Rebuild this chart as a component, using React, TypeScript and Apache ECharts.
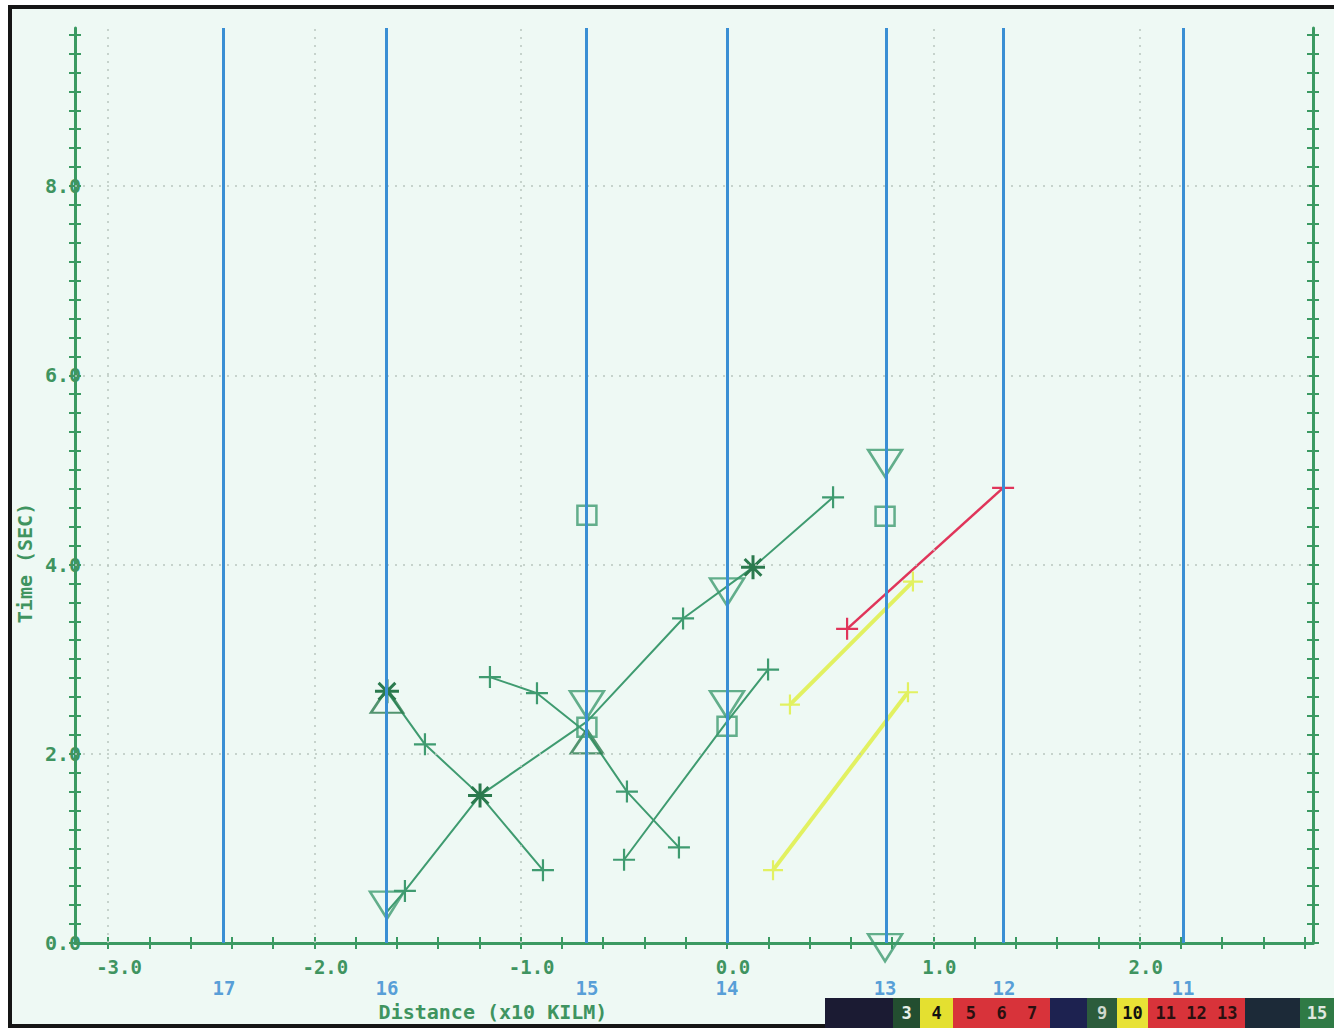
import React, { useEffect, useRef } from 'react';
import * as echarts from 'echarts';

// ---------- data ----------
const xLabelValues = [-3, -2, -1, 0, 1, 2];
const yLabelValues = [0, 2, 4, 6, 8];
const xGridValues = [-3, -2, -1, 0, 1, 2];
const yGridValues = [2, 4, 6, 8];

const stationNames = ['17', '16', '15', '14', '13', '12', '11'];
const stationX = [-2.438, -1.648, -0.679, 0, 0.766, 1.342, 2.21];

// [x, y, marker]
const lineA: [number, number, string][] = [
  [-1.648, 0.33, 'none'], [-1.561, 0.55, 'plus'], [-1.197, 1.56, 'star'],
  [-0.679, 2.34, 'none'], [-0.213, 3.43, 'plus'], [0.126, 3.97, 'star'], [0.514, 4.71, 'plus'],
];
const lineB: [number, number, string][] = [
  [-1.648, 2.66, 'star'], [-1.464, 2.1, 'plus'], [-1.197, 1.56, 'none'], [-0.892, 0.77, 'plus'],
];
const lineC: [number, number, string][] = [
  [-1.149, 2.81, 'plus'], [-0.921, 2.64, 'plus'], [-0.679, 2.22, 'none'], [-0.485, 1.6, 'plus'], [-0.233, 1.01, 'plus'],
];
const lineD: [number, number, string][] = [
  [-0.499, 0.88, 'plus'], [0, 2.34, 'none'], [0.199, 2.89, 'plus'],
];
const redLine: [number, number, string][] = [
  [0.582, 3.32, 'plus'], [1.338, 4.81, 'plus'],
];
const yellowLine1: [number, number, string][] = [
  [0.305, 2.52, 'plus'], [0.901, 3.82, 'plus'],
];
const yellowLine2: [number, number, string][] = [
  [0.223, 0.77, 'plus'], [0.877, 2.65, 'plus'],
];

const triDown: [number, number][] = [
  [-1.648, 0.4], [-0.679, 2.52], [0, 2.52], [0, 3.71], [0.766, 5.07], [0.766, -0.05],
];
const triUp: [number, number][] = [[-1.648, 2.56], [-0.679, 2.13]];
const squares: [number, number][] = [[-0.679, 4.52], [0.766, 4.51], [-0.679, 2.28], [0, 2.29]];

const legendSegments = [
  { x0: 825, x1: 893, color: '#1b1b33', label: '', labelColor: '#fff' },
  { x0: 893, x1: 920, color: '#234e30', label: '3', labelColor: '#e8f0e8' },
  { x0: 920, x1: 953, color: '#e4e030', label: '4', labelColor: '#111' },
  { x0: 953, x1: 1050, color: '#d8333a', label: '5  6  7', labelColor: '#2a1010' },
  { x0: 1050, x1: 1087, color: '#1d2250', label: '', labelColor: '#fff' },
  { x0: 1087, x1: 1117, color: '#2c5c3c', label: '9', labelColor: '#cfd8cf' },
  { x0: 1117, x1: 1148, color: '#e8e236', label: '10', labelColor: '#111' },
  { x0: 1148, x1: 1245, color: '#d8333a', label: '11 12 13', labelColor: '#2a1010' },
  { x0: 1245, x1: 1300, color: '#1c2a38', label: '', labelColor: '#fff' },
  { x0: 1300, x1: 1334, color: '#2f7a45', label: '15', labelColor: '#e0e8e0' },
];

// ---------- style ----------
const X_MIN = -3.16;
const X_MAX = 2.84;
const Y_MIN = 0;
const Y_MAX = 9.67;
const BG = '#eef9f4';
const AXIS_GREEN = '#3b9a62';
const TEXT_GREEN = '#3f9460';
const BLUE = '#3a8fd4';
const LABEL_BLUE = '#2f86d0';
const SERIES_GREEN = '#3f9b70';
const DARK_GREEN = '#2b7a4e';
const RED = '#e0355a';
const YELLOW = '#e2f160';
const GRID = '#b9c6bf';
const FONT = '"DejaVu Sans Mono", "Liberation Mono", monospace';

const PLUS = 'path://M10,0V20M0,10H20';
const STAR = 'path://M10,0V20M0,10H20M3,3L17,17M3,17L17,3';

function ticks(from: number, to: number, step: number) {
  const out: number[] = [];
  for (let v = from; v <= to + 1e-9; v += step) out.push(Math.round(v * 100) / 100);
  return out;
}
const xTicks = ticks(-3.0, 2.8, 0.2);
const yTicks = ticks(0, 9.6, 0.2);

function lineSeries(name: string, pts: [number, number, string][], color: string, width: number, markColor: string, size: number) {
  return {
    name,
    type: 'line',
    z: 3,
    lineStyle: { color, width },
    showSymbol: true,
    data: pts.map((p) => ({
      value: [p[0], p[1]],
      symbol: p[2] === 'none' ? 'none' : p[2] === 'star' ? STAR : PLUS,
      symbolSize: p[2] === 'star' ? size + 2 : size,
      itemStyle: {
        color: 'rgba(0,0,0,0)',
        borderColor: p[2] === 'star' ? DARK_GREEN : markColor,
        borderWidth: p[2] === 'star' ? 3 : 2.2,
      },
    })),
  };
}

export default function App() {
  const ref = useRef<HTMLDivElement>(null);
  useEffect(() => {
    if (!ref.current) return;
    const chart = echarts.init(ref.current, undefined, { renderer: 'svg' });

    const tickStyle = { color: AXIS_GREEN, width: 2 };
    const axisLineStyle = { color: AXIS_GREEN, width: 3 };

    const labelRich = {
      n: { fontFamily: FONT, fontSize: 19, fontWeight: 'bold', color: TEXT_GREEN, padding: [0, 0, 0, 22] },
      p: { fontFamily: FONT, fontSize: 19, fontWeight: 'bold', color: TEXT_GREEN, padding: [0, 0, 0, 12] },
    };

    const graphics: any[] = [
      {
        type: 'rect', z: -100, silent: true,
        shape: { x: 10, y: 7, width: 1340, height: 1019 },
        style: { fill: BG, stroke: '#151515', lineWidth: 4 },
      },
      {
        type: 'text', x: 493, y: 1012, z: 10,
        style: {
          text: 'Distance (x10 KILM)', fill: TEXT_GREEN, font: 'bold 20px ' + FONT,
          align: 'center', verticalAlign: 'middle', textAlign: 'center', textVerticalAlign: 'middle',
        },
      },
      {
        type: 'text', x: 25, y: 563, rotation: Math.PI / 2, z: 10,
        style: {
          text: 'Time (SEC)', fill: TEXT_GREEN, font: 'bold 20px ' + FONT,
          align: 'center', verticalAlign: 'middle', textAlign: 'center', textVerticalAlign: 'middle',
        },
      },
    ];
    legendSegments.forEach((s) => {
      graphics.push({
        type: 'rect', z: 50, silent: true,
        shape: { x: s.x0, y: 998, width: s.x1 - s.x0, height: 30 },
        style: { fill: s.color },
      });
      if (s.label) {
        graphics.push({
          type: 'text', z: 51, x: (s.x0 + s.x1) / 2, y: 1013,
          style: {
            text: s.label, fill: s.labelColor, font: 'bold 17px ' + FONT,
            align: 'center', verticalAlign: 'middle', textAlign: 'center', textVerticalAlign: 'middle',
          },
        });
      }
    });

    const hiddenLine = { show: false, onZero: false };

    const option: any = {
      animation: false,
      backgroundColor: '#ffffff',
      grid: { left: 75, right: 21, top: 28, bottom: 87, containLabel: false, outerBoundsMode: 'none' },
      xAxis: [
        {
          type: 'value', min: X_MIN, max: X_MAX, position: 'bottom',
          axisLine: { show: true, onZero: false, lineStyle: axisLineStyle },
          axisTick: { show: true, customValues: xTicks, length: 6, lineStyle: tickStyle },
          axisLabel: {
            show: true, customValues: xLabelValues, margin: 14, align: 'center',
            formatter: (v: number) => (v < 0 ? '{n|' + v.toFixed(1) + '}' : '{p|' + v.toFixed(1) + '}'),
            rich: labelRich,
          },
          splitLine: { show: false },
        },
        {
          type: 'value', min: X_MIN, max: X_MAX, position: 'bottom',
          axisLine: hiddenLine,
          axisTick: { show: true, inside: true, customValues: xTicks, length: 6, lineStyle: tickStyle },
          axisLabel: { show: false },
          splitLine: { show: false },
        },
      ],
      yAxis: [
        {
          type: 'value', min: Y_MIN, max: Y_MAX, position: 'left',
          axisLine: { show: true, onZero: false, lineStyle: axisLineStyle },
          axisTick: { show: true, customValues: yTicks, length: 6, lineStyle: tickStyle },
          axisLabel: {
            show: true, customValues: yLabelValues, margin: -6,
            formatter: (v: number) => v.toFixed(1),
            fontFamily: FONT, fontSize: 20, fontWeight: 'bold', color: TEXT_GREEN,
          },
          splitLine: { show: false },
        },
        {
          type: 'value', min: Y_MIN, max: Y_MAX, position: 'left',
          axisLine: hiddenLine,
          axisTick: { show: true, inside: true, customValues: yTicks, length: 6, lineStyle: tickStyle },
          axisLabel: { show: false },
          splitLine: { show: false },
        },
        {
          type: 'value', min: Y_MIN, max: Y_MAX, position: 'right',
          axisLine: { show: true, onZero: false, lineStyle: axisLineStyle },
          axisTick: { show: true, customValues: yTicks, length: 6, lineStyle: tickStyle },
          axisLabel: { show: false },
          splitLine: { show: false },
        },
        {
          type: 'value', min: Y_MIN, max: Y_MAX, position: 'right',
          axisLine: hiddenLine,
          axisTick: { show: true, inside: true, customValues: yTicks, length: 6, lineStyle: tickStyle },
          axisLabel: { show: false },
          splitLine: { show: false },
        },
      ],
      graphic: { elements: graphics },
      series: [
        {
          name: 'grid', type: 'scatter', z: 1, data: [], silent: true,
          markLine: {
            silent: true, symbol: ['none', 'none'], label: { show: false },
            lineStyle: { color: GRID, width: 1.5, type: [2, 6] },
            data: [
              ...xGridValues.map((v) => ({ xAxis: v })),
              ...yGridValues.map((v) => ({ yAxis: v })),
            ],
          },
        },
        {
          name: 'stations', type: 'scatter', z: 2, silent: true, clip: false,
          symbolSize: 1,
          itemStyle: { color: 'rgba(0,0,0,0)' },
          label: {
            show: true, position: 'inside', offset: [0, 45], formatter: '{b}',
            color: LABEL_BLUE, fontFamily: FONT, fontSize: 19, fontWeight: 'bold',
            textBorderWidth: 0, textBorderColor: 'transparent',
          },
          data: stationX.map((x, i) => ({ name: stationNames[i], value: [x, 0] })),
          markLine: {
            silent: true, symbol: ['none', 'none'], label: { show: false },
            lineStyle: { color: BLUE, width: 3, type: 'solid' },
            data: stationX.map((x) => ({ xAxis: x })),
          },
        },
        lineSeries('A', lineA, SERIES_GREEN, 2, SERIES_GREEN, 22),
        lineSeries('B', lineB, SERIES_GREEN, 2, SERIES_GREEN, 22),
        lineSeries('C', lineC, SERIES_GREEN, 2, SERIES_GREEN, 22),
        lineSeries('D', lineD, SERIES_GREEN, 2, SERIES_GREEN, 22),
        lineSeries('red', redLine, RED, 2.5, RED, 22),
        lineSeries('yellow1', yellowLine1, YELLOW, 4, YELLOW, 20),
        lineSeries('yellow2', yellowLine2, YELLOW, 4, YELLOW, 20),
        {
          name: 'triDown', type: 'scatter', z: 4, clip: false,
          symbol: 'triangle', symbolRotate: 180, symbolSize: [34, 27],
          itemStyle: { color: 'rgba(0,0,0,0)', borderColor: SERIES_GREEN, borderWidth: 2.5 },
          data: triDown,
        },
        {
          name: 'triUp', type: 'scatter', z: 4, clip: false,
          symbol: 'triangle', symbolSize: [32, 24],
          itemStyle: { color: 'rgba(0,0,0,0)', borderColor: DARK_GREEN, borderWidth: 2.5 },
          data: triUp,
        },
        {
          name: 'squares', type: 'scatter', z: 4,
          symbol: 'rect', symbolSize: 19,
          itemStyle: { color: 'rgba(0,0,0,0)', borderColor: SERIES_GREEN, borderWidth: 2.5 },
          data: squares,
        },
      ],
    };
    chart.setOption(option);
    return () => chart.dispose();
  }, []);
  return <div ref={ref} style={{ position: 'absolute', left: 0, top: 0, width: 1334, height: 1030 }} />;
}
